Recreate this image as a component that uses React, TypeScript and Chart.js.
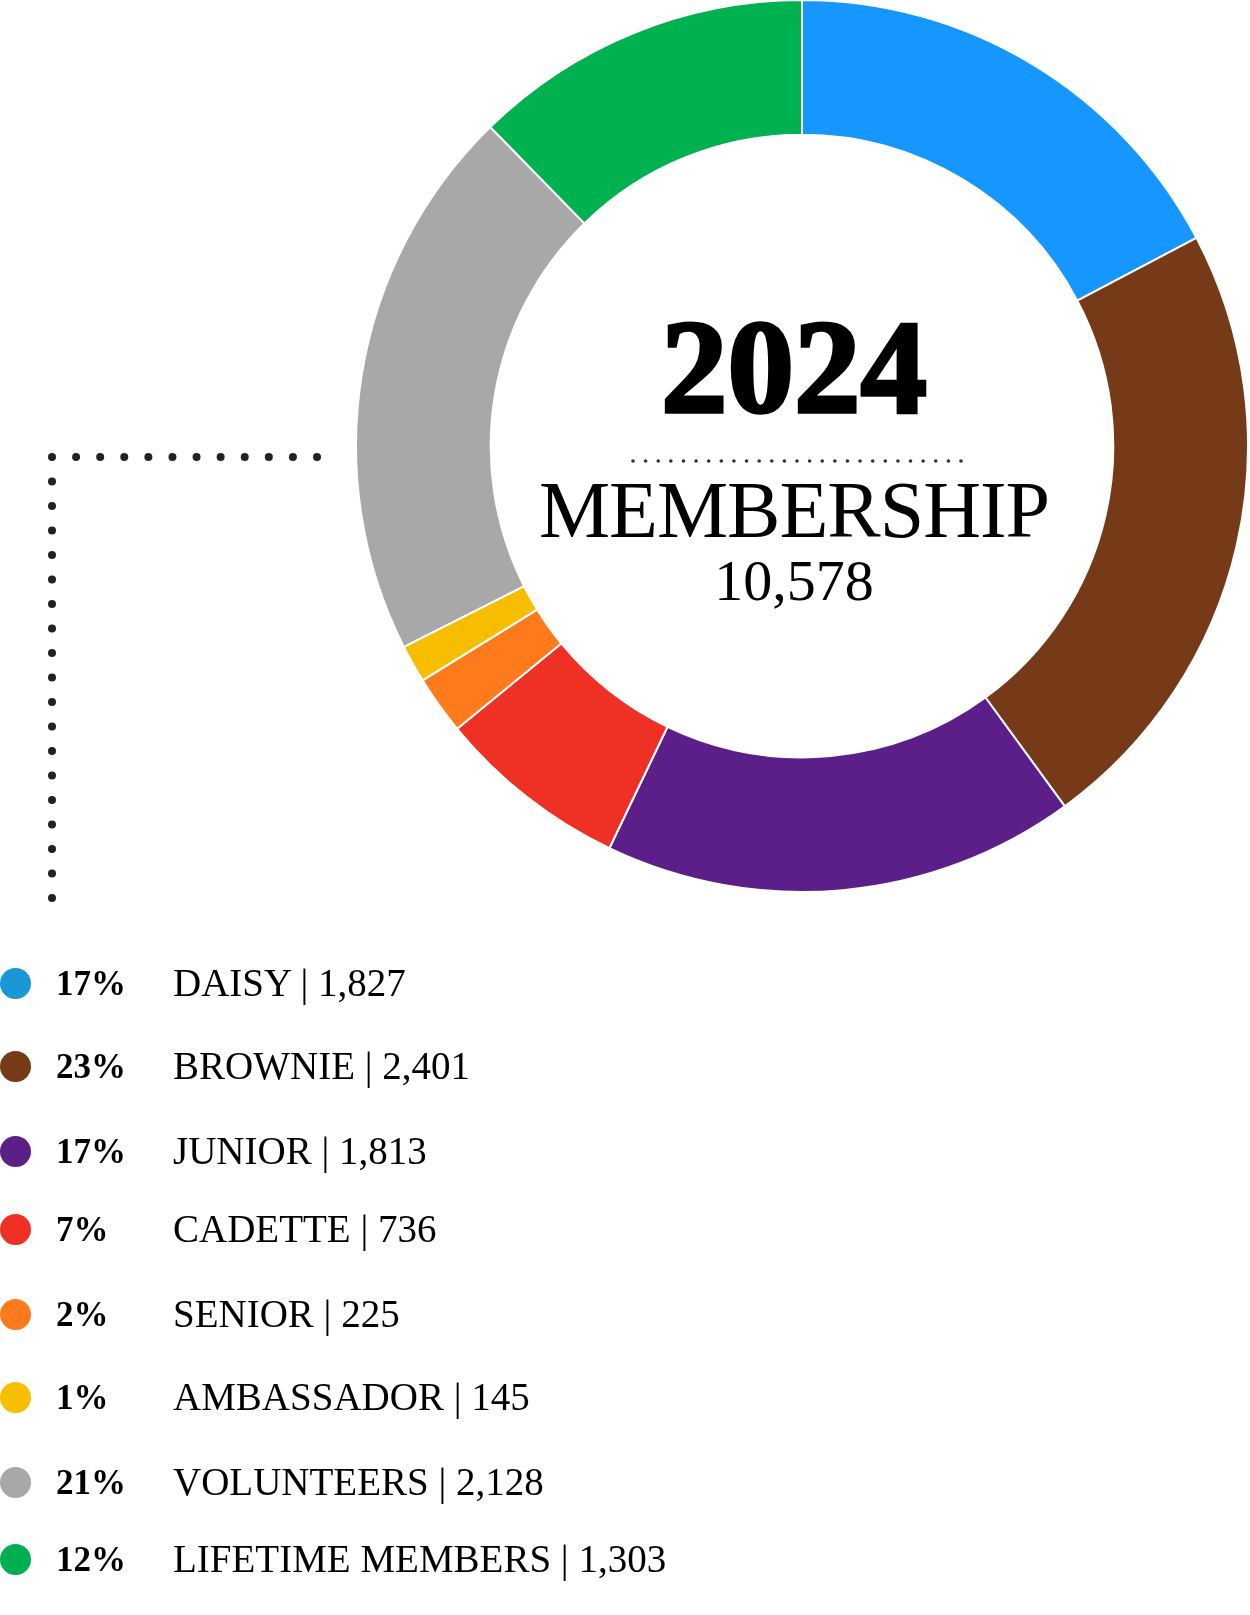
import React, { useEffect, useRef } from "react";
import { Chart, registerables } from "chart.js";

Chart.register(...registerables);

// ---- data ----
const categories = [
  "DAISY",
  "BROWNIE",
  "JUNIOR",
  "CADETTE",
  "SENIOR",
  "AMBASSADOR",
  "VOLUNTEERS",
  "LIFETIME MEMBERS",
];
const members = [1827, 2401, 1813, 736, 225, 145, 2128, 1303];
const percentLabels = ["17%", "23%", "17%", "7%", "2%", "1%", "21%", "12%"];
const sliceColors = [
  "#1597FF",
  "#763A18",
  "#5C1F8A",
  "#EE3124",
  "#FF7A1A",
  "#F7BE00",
  "#A8A8A8",
  "#00B14F",
];
const legendColors = [
  "#1A97D7",
  "#773A17",
  "#5B1F88",
  "#EE3124",
  "#FF7A1C",
  "#F8BE00",
  "#A8A8A8",
  "#00B050",
];
const yearLabel = "2024";
const titleLabel = "MEMBERSHIP";

// ---- layout ----
const SERIF = '"Liberation Serif", "Times New Roman", serif';
const CX = 802;
const CY = 446;
const SIZE = 894;
const legendRowCenters = [983, 1066, 1151, 1229, 1314, 1397, 1482, 1559];

const fmt = (n: number) => n.toLocaleString("en-US");

function Donut() {
  const ref = useRef<HTMLCanvasElement | null>(null);
  useEffect(() => {
    if (!ref.current) return;
    const chart = new Chart(ref.current, {
      type: "doughnut",
      data: {
        labels: categories,
        datasets: [
          {
            data: members,
            backgroundColor: sliceColors,
            borderColor: "#ffffff",
            borderWidth: 2,
            hoverOffset: 0,
          },
        ],
      },
      options: {
        responsive: false,
        maintainAspectRatio: false,
        animation: false,
        cutout: "69.8%",
        layout: { padding: 0 },
        events: [],
        plugins: {
          legend: { display: false },
          tooltip: { enabled: false },
          title: { display: false },
        },
      },
    });
    return () => chart.destroy();
  }, []);
  return (
    <canvas
      ref={ref}
      width={SIZE}
      height={SIZE}
      style={{
        position: "absolute",
        left: CX - SIZE / 2,
        top: CY - SIZE / 2,
        width: SIZE,
        height: SIZE,
      }}
    />
  );
}

function Dots() {
  const dots: React.ReactNode[] = [];
  // L-shaped leader: horizontal part
  const hx0 = 52;
  const hy = 457;
  const hx1 = 317;
  const hCount = 11;
  for (let i = 0; i <= hCount; i++) {
    const x = hx0 + ((hx1 - hx0) * i) / hCount;
    dots.push(<circle key={"h" + i} cx={x} cy={hy} r={4} fill="#222" />);
  }
  // vertical part
  const vy0 = 457;
  const vy1 = 898;
  const vCount = 18;
  for (let i = 1; i <= vCount; i++) {
    const y = vy0 + ((vy1 - vy0) * i) / vCount;
    dots.push(<circle key={"v" + i} cx={hx0} cy={y} r={4} fill="#222" />);
  }
  // small dotted rule in the centre
  const cx0 = 633;
  const cx1 = 961;
  const cCount = 26;
  for (let i = 0; i <= cCount; i++) {
    const x = cx0 + ((cx1 - cx0) * i) / cCount;
    dots.push(<circle key={"c" + i} cx={x} cy={461} r={1.8} fill="#333" />);
  }
  return (
    <svg
      width={1250}
      height={1615}
      style={{ position: "absolute", left: 0, top: 0, pointerEvents: "none" }}
    >
      {dots}
    </svg>
  );
}

function CenterText() {
  const total = members.reduce((a, b) => a + b, 0);
  const box = (top: number, size: number, extra: React.CSSProperties, text: string) => (
    <div
      style={{
        position: "absolute",
        left: 494,
        width: 600,
        top,
        textAlign: "center",
        fontFamily: SERIF,
        fontSize: size,
        lineHeight: `${size}px`,
        color: "#000",
        whiteSpace: "nowrap",
        ...extra,
      }}
    >
      {text}
    </div>
  );
  return (
    <>
      {box(301, 133, { fontWeight: 700, WebkitTextStroke: "3.5px #000" } as React.CSSProperties, yearLabel)}
      {box(470, 80, { letterSpacing: "-1px" }, titleLabel)}
      {box(552, 58, {}, fmt(total))}
    </>
  );
}

function Legend() {
  return (
    <>
      {categories.map((c, i) => {
        const top = legendRowCenters[i] - 19;
        return (
          <div
            key={c}
            style={{
              position: "absolute",
              left: 0,
              top,
              height: 38,
              width: 800,
              fontFamily: SERIF,
              fontSize: 39,
              lineHeight: "38px",
              color: "#000",
              whiteSpace: "nowrap",
            }}
          >
            <span
              style={{
                position: "absolute",
                left: 0,
                top: 19 - 15.5,
                width: 31,
                height: 31,
                borderRadius: "50%",
                background: legendColors[i],
              }}
            />
            <span
              style={{
                position: "absolute",
                left: 56,
                top: 1,
                fontWeight: 700,
                fontSize: 35,
              }}
            >
              {percentLabels[i]}
            </span>
            <span style={{ position: "absolute", left: 173, top: 0 }}>
              {c} | {fmt(members[i])}
            </span>
          </div>
        );
      })}
    </>
  );
}

export default function App() {
  return (
    <div
      style={{
        position: "absolute",
        left: 0,
        top: 0,
        width: 1250,
        height: 1615,
        background: "#fff",
        overflow: "hidden",
      }}
    >
      <Donut />
      <Dots />
      <CenterText />
      <Legend />
    </div>
  );
}
